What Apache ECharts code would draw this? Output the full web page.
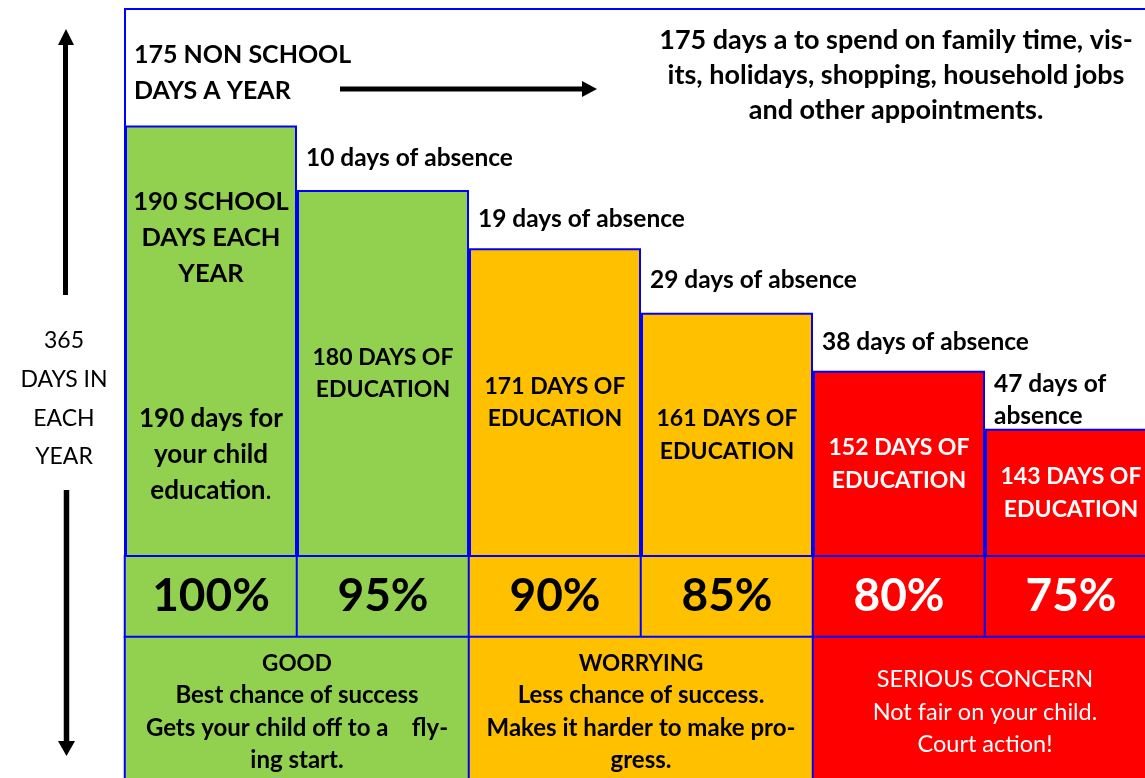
<!DOCTYPE html>
<html>
<head>
<meta charset="utf-8">
<script src="https://cdn.jsdelivr.net/npm/echarts@6/dist/echarts.min.js"></script>
<style>
html,body{margin:0;padding:0;background:#fff;}
#chart{width:1145px;height:778px;}
</style>
</head>
<body>
<div id="chart"></div>
<script>
// ---------- data ----------
const attendancePct = [100, 95, 90, 85, 80, 75];
const educationDays = [190, 180, 171, 161, 152, 143];
const absenceDays = [0, 10, 19, 29, 38, 47];
const bandOfColumn = [0, 0, 1, 1, 2, 2];
const bandNames = ['GOOD', 'WORRYING', 'SERIOUS CONCERN'];
const bandNotes = [
  ['Best chance of success', 'Gets your child off to a    fly-', 'ing start.'],
  ['Less chance of success.', 'Makes it harder to make pro-', 'gress.'],
  ['Not fair on your child.', 'Court action!']
];
const schoolDays = 190;
const nonSchoolDays = 175;
const yearDays = 365;

// ---------- style ----------
const BLUE = '#0000FF';
const bandColors = ['#92D050', '#FFC000', '#FF0000'];
const bandText = ['#000000', '#000000', '#FFFFFF'];
const FONT = 'Lato';

const cols = attendancePct.map((p, i) => i);

const educationData = educationDays.map((v, i) => {
  const b = bandOfColumn[i];
  return { value: v, itemStyle: { color: bandColors[b] }, label: { color: bandText[b] } };
});

const absenceData = educationDays.map((v, i) => {
  if (i === 0) return '-';
  const item = { value: educationDays[i - 1] - v };
  if (i === educationDays.length - 1) item.label = { width: 150, overflow: 'break' };
  return item;
});

const pctData = attendancePct.map((p, i) => {
  const b = bandOfColumn[i];
  return { value: [i, 0, p], itemStyle: { color: bandColors[b] }, label: { color: bandText[b] } };
});

const bandData = bandNames.map((n, i) => ({
  value: [i, 0, i], itemStyle: { color: bandColors[i] }
}));

const chart = echarts.init(document.getElementById('chart'), null, { renderer: 'canvas' });

const option = {
  backgroundColor: '#ffffff',
  animation: false,
  textStyle: { fontFamily: FONT },
  grid: [
    { left: 125, width: 1032, top: 10, height: 546, outerBoundsMode: 'none', containLabel: false },
    { left: 125, width: 1032, top: 556, height: 81, outerBoundsMode: 'none' },
    { left: 125, width: 1032, top: 637, height: 150, outerBoundsMode: 'none' }
  ],
  xAxis: [
    { type: 'category', gridIndex: 0, data: cols, show: false },
    { type: 'category', gridIndex: 1, data: cols, show: false },
    { type: 'category', gridIndex: 2, data: bandNames, show: false }
  ],
  yAxis: [
    { type: 'value', gridIndex: 0, min: 123.3, max: 207.9, show: false, splitLine: { show: false } },
    { type: 'category', gridIndex: 1, data: ['pct'], show: false },
    { type: 'category', gridIndex: 2, data: ['band'], show: false }
  ],
  series: [
    {
      name: 'education', type: 'bar', xAxisIndex: 0, yAxisIndex: 0, stack: 'year',
      barWidth: '100%', barCategoryGap: 0, clip: true,
      itemStyle: { borderColor: BLUE, borderWidth: 2 },
      label: {
        show: true, position: 'inside', fontFamily: FONT, fontWeight: 'bold',
        fontSize: 23, lineHeight: 32.5, align: 'center',
        formatter: (p) => {
          if (p.dataIndex === 0) {
            return '{a|' + schoolDays + ' SCHOOL}\n{a|DAYS EACH}\n{a|YEAR}\n{a|}\n{a|}\n{a|}\n{b|' + p.value +
              ' days for}\n{b|your child}\n{b|education}{c|.}';
          }
          return p.value + ' DAYS OF\nEDUCATION';
        },
        rich: {
          a: { fontFamily: FONT, fontWeight: 'bold', fontSize: 25.5, lineHeight: 36, color: '#000' },
          b: { fontFamily: FONT, fontWeight: 'bold', fontSize: 26, lineHeight: 36, color: '#000' },
          c: { fontFamily: FONT, fontWeight: 'normal', fontSize: 26, lineHeight: 36, color: '#000' }
        }
      },
      labelLayout: (params) => params.dataIndex === 0 ? { dy: 5 } : {},
      data: educationData,
      z: 3
    },
    {
      name: 'absence', type: 'bar', xAxisIndex: 0, yAxisIndex: 0, stack: 'year',
      barWidth: '100%', barCategoryGap: 0,
      itemStyle: { color: 'rgba(0,0,0,0)' },
      label: {
        show: true, position: 'insideLeft', distance: 9,
        fontFamily: FONT, fontWeight: 'bold', fontSize: 24.5, lineHeight: 32, color: '#000',
        formatter: (p) => absenceDays[p.dataIndex] + ' days of absence'
      },
      data: absenceData,
      z: 2
    },
    {
      name: 'attendance', type: 'heatmap', xAxisIndex: 1, yAxisIndex: 1,
      itemStyle: { borderColor: BLUE, borderWidth: 2 },
      label: {
        show: true, fontFamily: FONT, fontWeight: 'bold', fontSize: 46,
        formatter: (p) => p.value[2] + '%'
      },
      emphasis: { disabled: true },
      data: pctData
    },
    {
      name: 'band', type: 'heatmap', xAxisIndex: 2, yAxisIndex: 2,
      itemStyle: { borderColor: BLUE, borderWidth: 2 },
      label: {
        show: true,
        formatter: (p) => {
          const i = p.value[0];
          if (i === 2) {
            return ['{w|' + bandNames[i] + '}'].concat(bandNotes[i].map(s => '{w|' + s + '}')).join('\n');
          }
          return ['{h|' + bandNames[i] + '}'].concat(bandNotes[i].map(s => '{t|' + s + '}')).join('\n');
        },
        rich: {
          h: { fontFamily: FONT, fontWeight: 'bold', fontSize: 22.5, lineHeight: 32.5, color: '#000' },
          t: { fontFamily: FONT, fontWeight: 'bold', fontSize: 24, lineHeight: 32.5, color: '#000' },
          w: { fontFamily: FONT, fontWeight: 'normal', fontSize: 23.5, lineHeight: 32.5, color: '#fff' }
        }
      },
      emphasis: { disabled: true },
      data: bandData
    }
  ],
  graphic: [
    { type: 'rect', z: -10, shape: { x: 125, y: 9, width: 1100, height: 800 },
      style: { fill: '#ffffff', stroke: BLUE, lineWidth: 2 } },
    { type: 'text', z: 10, style: { x: 134, y: 73, text: nonSchoolDays + ' NON SCHOOL\nDAYS A YEAR',
      font: 'bold 25px Lato', lineHeight: 36, fill: '#000', align: 'left', verticalAlign: 'middle' } },
    { type: 'line', z: 10, shape: { x1: 340, y1: 89, x2: 584, y2: 89 }, style: { stroke: '#000', lineWidth: 5 } },
    { type: 'polygon', z: 10, shape: { points: [[582, 81], [597, 89], [582, 97]] }, style: { fill: '#000' } },
    { type: 'text', z: 10, style: { x: 896, y: 75,
      text: nonSchoolDays + ' days a to spend on family time, vis-\nits, holidays, shopping, household jobs\nand other appointments.',
      font: 'bold 27px Lato', lineHeight: 35, fill: '#000', align: 'center', verticalAlign: 'middle' } },
    { type: 'text', z: 10, style: { x: 64, y: 399, text: yearDays + '\nDAYS IN\nEACH\nYEAR',
      font: 'normal 23px Lato', lineHeight: 38.7, fill: '#000', align: 'center', verticalAlign: 'middle' } },
    { type: 'line', z: 10, shape: { x1: 65.5, y1: 295, x2: 65.5, y2: 44 }, style: { stroke: '#000', lineWidth: 5 } },
    { type: 'polygon', z: 10, shape: { points: [[58, 45], [74, 45], [66, 29]] }, style: { fill: '#000' } },
    { type: 'line', z: 10, shape: { x1: 66.5, y1: 490, x2: 66.5, y2: 742 }, style: { stroke: '#000', lineWidth: 5.5 } },
    { type: 'polygon', z: 10, shape: { points: [[58, 741], [75, 741], [66.5, 756]] }, style: { fill: '#000' } }
  ]
};

chart.setOption(option);
</script>
</body>
</html>
